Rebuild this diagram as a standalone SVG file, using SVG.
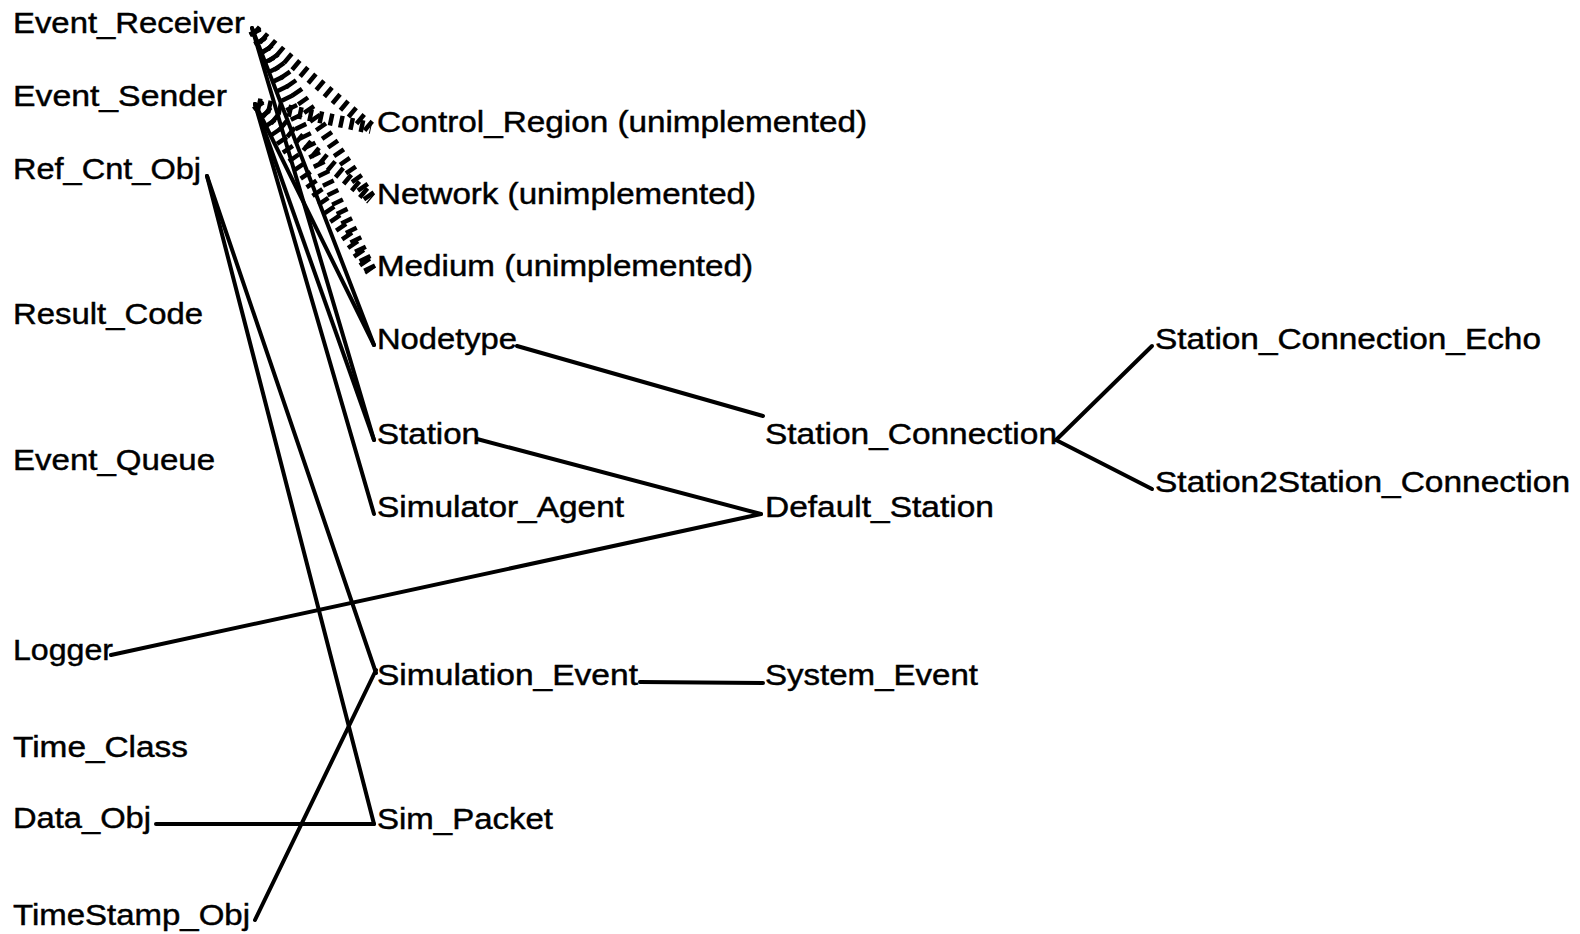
<svg xmlns="http://www.w3.org/2000/svg" width="1580" height="934" viewBox="0 0 1580 934">
  <style>
    .lbl { font-family: "Liberation Sans", Arial, Helvetica, sans-serif; font-size: 29px; fill: #000; stroke: #000; stroke-width: 0.45; }
    .edge { stroke: #000; stroke-width: 4; fill: none; stroke-linecap: round; }
    .hatch { stroke: #000; stroke-width: 12; fill: none; stroke-dasharray: 4.5 6; stroke-linecap: butt; }
  </style>
  <rect width="1580" height="934" fill="#fff"/>

  <!-- connectors -->
  <g id="connectors">
    <!-- hatched links to the unimplemented classes -->
    <line class="hatch" x1="254" y1="30" x2="371" y2="128"/>
    <line class="hatch" x1="254" y1="30" x2="371" y2="199"/>
    <line class="hatch" x1="254" y1="30" x2="371" y2="271"/>
    <line class="hatch" x1="257" y1="104" x2="371" y2="128"/>
    <line class="hatch" x1="257" y1="104" x2="371" y2="199"/>
    <line class="hatch" x1="257" y1="104" x2="371" y2="271"/>
    <!-- Event_Receiver / Event_Sender -->
    <line class="edge" x1="252" y1="28" x2="374" y2="345"/>
    <line class="edge" x1="252" y1="28" x2="374" y2="440"/>
    <line class="edge" x1="255" y1="104" x2="374" y2="345"/>
    <line class="edge" x1="255" y1="104" x2="374" y2="440"/>
    <line class="edge" x1="255" y1="104" x2="374" y2="514"/>
    <!-- Ref_Cnt_Obj -->
    <line class="edge" x1="207" y1="176" x2="376" y2="673"/>
    <line class="edge" x1="207" y1="176" x2="374" y2="824"/>
    <!-- Nodetype / Station -->
    <line class="edge" x1="517" y1="346" x2="763" y2="416"/>
    <line class="edge" x1="477" y1="439" x2="761" y2="514"/>
    <line class="edge" x1="111" y1="655" x2="761" y2="514"/>
    <!-- Station_Connection -->
    <line class="edge" x1="1056" y1="440" x2="1152" y2="346"/>
    <line class="edge" x1="1056" y1="440" x2="1152" y2="489"/>
    <!-- events and packets -->
    <line class="edge" x1="640" y1="682" x2="763" y2="683"/>
    <line class="edge" x1="156" y1="824" x2="374" y2="824"/>
    <line class="edge" x1="255" y1="920" x2="376" y2="670"/>
  </g>

  <!-- left column -->
  <g id="event_receiver"><text class="lbl" x="13" y="33" textLength="232" lengthAdjust="spacingAndGlyphs">Event_Receiver</text></g>
  <g id="event_sender"><text class="lbl" x="13" y="106" textLength="214" lengthAdjust="spacingAndGlyphs">Event_Sender</text></g>
  <g id="ref_cnt_obj"><text class="lbl" x="13" y="179" textLength="188" lengthAdjust="spacingAndGlyphs">Ref_Cnt_Obj</text></g>
  <g id="result_code"><text class="lbl" x="13" y="324" textLength="190" lengthAdjust="spacingAndGlyphs">Result_Code</text></g>
  <g id="event_queue"><text class="lbl" x="13" y="470" textLength="202" lengthAdjust="spacingAndGlyphs">Event_Queue</text></g>
  <g id="logger"><text class="lbl" x="13" y="660" textLength="100" lengthAdjust="spacingAndGlyphs">Logger</text></g>
  <g id="time_class"><text class="lbl" x="13" y="757" textLength="175" lengthAdjust="spacingAndGlyphs">Time_Class</text></g>
  <g id="data_obj"><text class="lbl" x="13" y="828" textLength="138" lengthAdjust="spacingAndGlyphs">Data_Obj</text></g>
  <g id="timestamp_obj"><text class="lbl" x="13" y="925" textLength="237" lengthAdjust="spacingAndGlyphs">TimeStamp_Obj</text></g>

  <!-- second column -->
  <g id="control_region"><text class="lbl" x="377" y="132" textLength="490" lengthAdjust="spacingAndGlyphs">Control_Region (unimplemented)</text></g>
  <g id="network"><text class="lbl" x="377" y="204" textLength="379" lengthAdjust="spacingAndGlyphs">Network (unimplemented)</text></g>
  <g id="medium"><text class="lbl" x="377" y="276" textLength="376" lengthAdjust="spacingAndGlyphs">Medium (unimplemented)</text></g>
  <g id="nodetype"><text class="lbl" x="377" y="349" textLength="140" lengthAdjust="spacingAndGlyphs">Nodetype</text></g>
  <g id="station"><text class="lbl" x="377" y="444" textLength="103" lengthAdjust="spacingAndGlyphs">Station</text></g>
  <g id="simulator_agent"><text class="lbl" x="377" y="517" textLength="247" lengthAdjust="spacingAndGlyphs">Simulator_Agent</text></g>
  <g id="simulation_event"><text class="lbl" x="377" y="685" textLength="261" lengthAdjust="spacingAndGlyphs">Simulation_Event</text></g>
  <g id="sim_packet"><text class="lbl" x="377" y="829" textLength="176" lengthAdjust="spacingAndGlyphs">Sim_Packet</text></g>

  <!-- third column -->
  <g id="station_connection"><text class="lbl" x="765" y="444" textLength="292" lengthAdjust="spacingAndGlyphs">Station_Connection</text></g>
  <g id="default_station"><text class="lbl" x="765" y="517" textLength="229" lengthAdjust="spacingAndGlyphs">Default_Station</text></g>
  <g id="system_event"><text class="lbl" x="765" y="685" textLength="213" lengthAdjust="spacingAndGlyphs">System_Event</text></g>

  <!-- fourth column -->
  <g id="station_connection_echo"><text class="lbl" x="1155" y="349" textLength="386" lengthAdjust="spacingAndGlyphs">Station_Connection_Echo</text></g>
  <g id="station2station_connection"><text class="lbl" x="1155" y="492" textLength="415" lengthAdjust="spacingAndGlyphs">Station2Station_Connection</text></g>
</svg>
